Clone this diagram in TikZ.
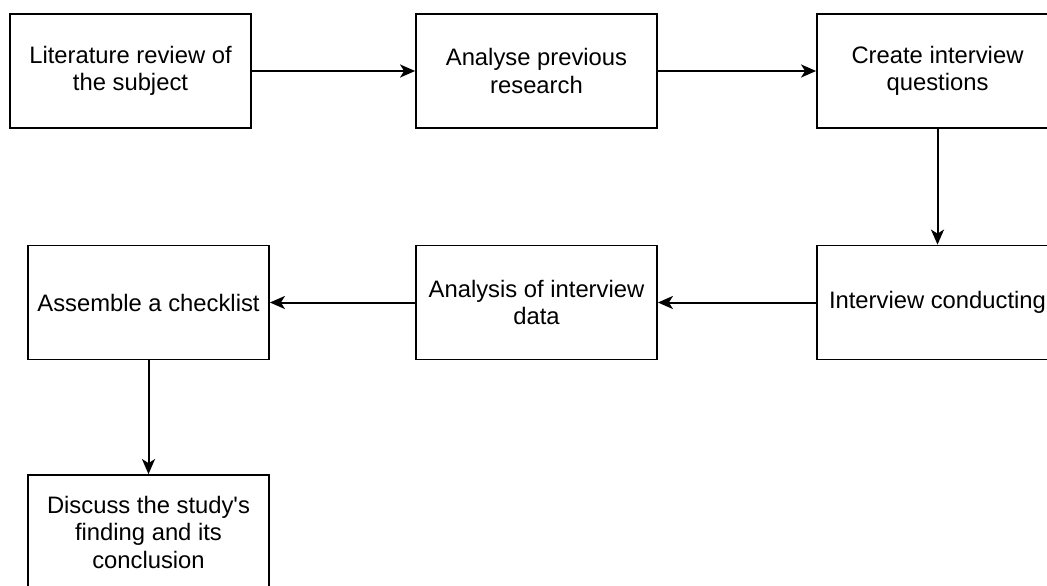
\documentclass[tikz,border=0pt]{standalone}
\usepackage{fontspec}
\setmainfont{Liberation Sans}
\usetikzlibrary{arrows.meta}
\begin{document}
\begin{tikzpicture}[x=1pt,y=-1pt,
  box/.style={draw=black,line width=1.8pt,fill=white,minimum width=241pt,minimum height=114pt,
    align=center,inner sep=0pt,font=\fontsize{23.8}{27.5}\selectfont},
  conn/.style={line width=2pt,-{Stealth[length=15pt,width=13pt,inset=4pt]}}]
\useasboundingbox (0,0) rectangle (1047,586);
\clip (0,0) rectangle (1047,586);
\node[box] (lit) at (130.5,71) {Literature review of\\the subject};
\node[box] (prev) at (536.5,71) {Analyse previous\\research};
\node[box] (quest) at (937.5,71) {Create interview\\questions};
\node[box] (cond) at (937.5,302.5) {Interview conducting};
\node[box] (anal) at (536.5,302.5) {Analysis of interview\\data};
\node[box] (check) at (148.5,302.5) {Assemble a checklist};
\node[box] (disc) at (148.5,532) {Discuss the study\textquotesingle s\\finding and its\\conclusion};
\draw[conn] (lit) -- (prev);
\draw[conn] (prev) -- (quest);
\draw[conn] (quest) -- (cond);
\draw[conn] (cond) -- (anal);
\draw[conn] (anal) -- (check);
\draw[conn] (check) -- (disc);
\end{tikzpicture}
\end{document}
